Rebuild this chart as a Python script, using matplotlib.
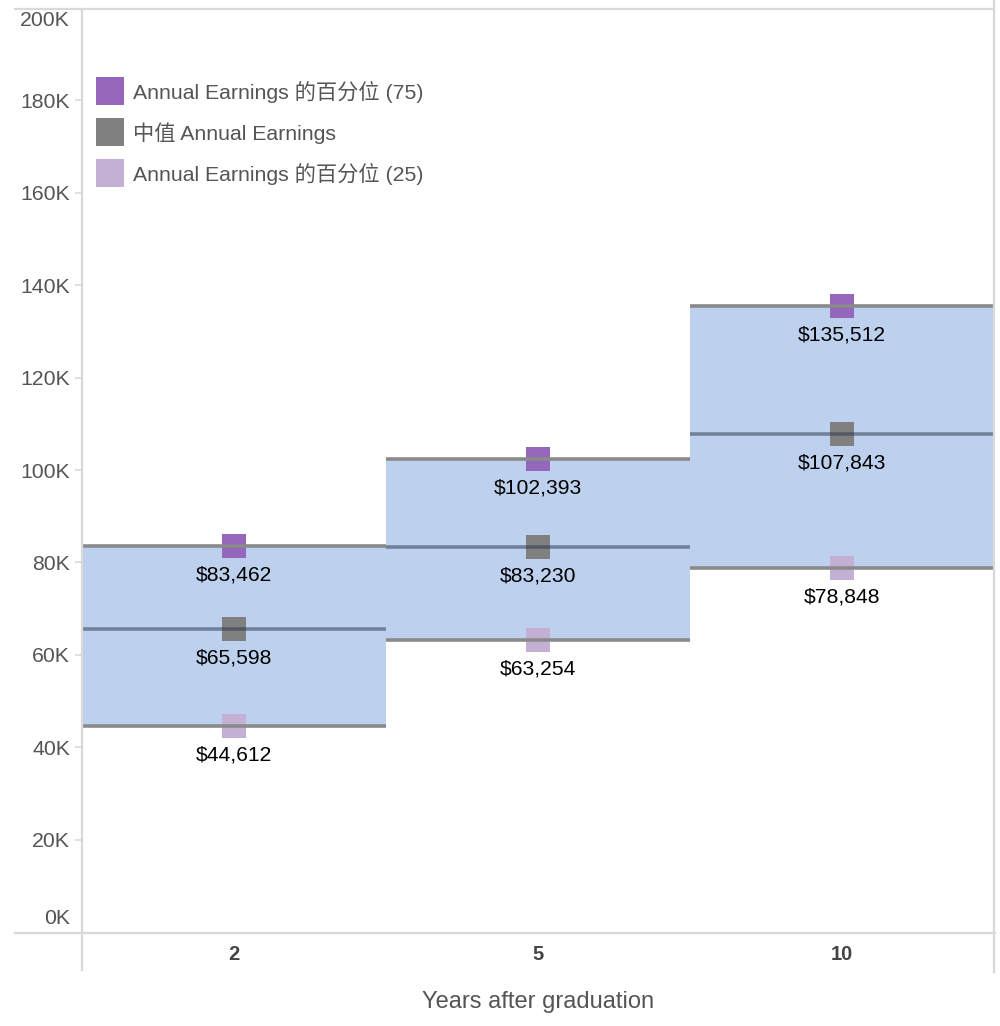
import matplotlib
matplotlib.use("Agg")
import matplotlib.pyplot as plt
from matplotlib.lines import Line2D
import numpy as np

plt.rcParams['font.family'] = ['Liberation Sans', 'Noto Sans CJK SC', 'DejaVu Sans']

years = ['2', '5', '10']
p75 = [83462, 102393, 135512]
median = [65598, 83230, 107843]
p25 = [44612, 63254, 78848]
y_ticks = [0, 20000, 40000, 60000, 80000, 100000, 120000, 140000, 160000, 180000, 200000]
y_tick_labels = ['0K', '20K', '40K', '60K', '80K', '100K', '120K', '140K', '160K', '180K', '200K']
legend_labels = ['Annual Earnings 的百分位 (75)', '中值 Annual Earnings', 'Annual Earnings 的百分位 (25)']
x_title = 'Years after graduation'

c75 = '#9467bd'
cmed = '#808080'
c25 = '#c5b0d5'
band_color = '#bdd1ef'
frame_color = '#d9d9d9'
text_color = '#555555'

W, H = 1000, 1026
fig = plt.figure(figsize=(W / 100, H / 100), dpi=100)
ax = fig.add_axes([82 / W, 1 - 932 / H, (994 - 82) / W, (932 - 8) / H])

x = np.arange(len(years))
lo = np.array(p25)
hi = np.array(p75)
ax.bar(x, hi - lo, bottom=lo, width=1.0, color=band_color, zorder=1, linewidth=0)

ax.scatter(x, p75, marker='s', s=17.5 ** 2, color=c75, zorder=3, linewidths=0)
ax.scatter(x, median, marker='s', s=17.5 ** 2, color=cmed, zorder=3, linewidths=0)
ax.scatter(x, p25, marker='s', s=17.5 ** 2, color=c25, zorder=3, linewidths=0)

ax.hlines(p75, x - 0.5, x + 0.5, color='#8a8a8a', linewidth=2.6, zorder=4)
ax.hlines(p25, x - 0.5, x + 0.5, color='#8a8a8a', linewidth=2.6, zorder=4)
ax.hlines(median, x - 0.5, x + 0.5, color=(0.15, 0.2, 0.28), alpha=0.5, linewidth=2.6, zorder=4)

for series in (p75, median, p25):
    for xi, v in zip(x, series):
        ax.annotate(f'${v:,}', (xi, v), xytext=(0, -29), textcoords='offset pixels',
                    ha='center', va='center', fontsize=15.2, color='black', zorder=5)

ax.set_xlim(-0.5, len(years) - 0.5)
ax.set_ylim(0, 200000)
ax.set_yticks(y_ticks)
ax.set_yticklabels(y_tick_labels)
ax.set_xticks(x)
ax.set_xticklabels(years)
ax.tick_params(axis='y', length=5, width=1.2, color=frame_color, pad=3.5,
               labelsize=15.3, labelcolor=text_color)
ax.tick_params(axis='x', length=0, pad=9, labelsize=14.5, labelcolor='#444444')
for lab in ax.get_xticklabels():
    lab.set_fontweight('bold')

# first and last y labels are nudged inside the plot, as in the reference
ylabs = ax.get_yticklabels()
ylabs[0].set_visible(False)
ylabs[-1].set_visible(False)
ax.yaxis.get_major_ticks()[0].tick1line.set_visible(False)
ax.yaxis.get_major_ticks()[-1].tick1line.set_visible(False)
ytrans = ax.get_yaxis_transform()
ax.annotate(y_tick_labels[0], xy=(0, y_ticks[0]), xycoords=ytrans, xytext=(-12, 14),
            textcoords='offset pixels', ha='right', va='center', fontsize=15.3,
            color=text_color, annotation_clip=False)
ax.annotate(y_tick_labels[-1], xy=(0, y_ticks[-1]), xycoords=ytrans, xytext=(-12, -12),
            textcoords='offset pixels', ha='right', va='center', fontsize=15.3,
            color=text_color, annotation_clip=False)

for s in ax.spines.values():
    s.set_visible(False)

ax.set_xlabel(x_title, fontsize=17, color=text_color, labelpad=20)

# frame lines (figure pixel coords)
def fline(xs, ys):
    fig.add_artist(Line2D([v / W for v in xs], [1 - v / H for v in ys],
                          color=frame_color, linewidth=1.6, transform=fig.transFigure))

fline([15, 994], [9, 9])
fline([15, 995], [933, 933])
fline([82, 82], [9, 970])
fline([994, 994], [0, 972])

handles = [Line2D([], [], marker='s', linestyle='none', markersize=19.5, color=c, markeredgewidth=0)
           for c in (c75, cmed, c25)]
leg = ax.legend(handles, legend_labels, loc='upper left',
                bbox_to_anchor=(84 / W, 1 - 66 / H), bbox_transform=fig.transFigure,
                frameon=False, fontsize=15.3, labelcolor=text_color,
                handlelength=1.0, handletextpad=0.6, labelspacing=0.9, borderpad=0.2)

fig.savefig('out.png', dpi=100)
